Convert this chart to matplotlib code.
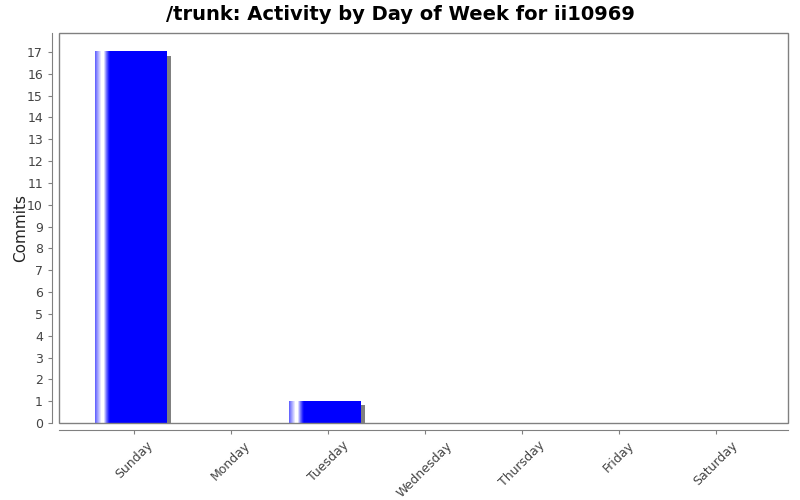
import matplotlib.pyplot as plt
import numpy as np
from matplotlib.patches import Rectangle

days = ['Sunday', 'Monday', 'Tuesday', 'Wednesday', 'Thursday', 'Friday', 'Saturday']
commits = [17, 0, 1, 0, 0, 0, 0]

fig = plt.figure(figsize=(8, 5), dpi=100)
ax = fig.add_axes([59 / 800, 77 / 500, 729 / 800, 390 / 500])

x = np.arange(len(days))
width = 0.74
ppx = 97.0           # pixels per category
ppy = 390 / 17.87    # pixels per commit

# horizontal gradient across the bar: blue -> white highlight -> blue
grad = np.zeros(72)
grad[:15] = [0.4, 0.5, 0.6, 0.7, 0.8, 0.9, 1.0, 1.0, 1.0, 0.85, 0.65, 0.45, 0.3, 0.15, 0.05]
cmap_rgb = np.zeros((1, len(grad), 3))
cmap_rgb[0, :, 0] = grad
cmap_rgb[0, :, 1] = grad
cmap_rgb[0, :, 2] = 1.0

for xi, v in zip(x, commits):
    if v <= 0:
        continue
    left = xi - width / 2 - 0.03
    # shadow
    ax.add_patch(Rectangle((left + 4 / ppx, 0), width, v - 4 / ppy,
                           facecolor='#808080', edgecolor='none', zorder=1))
    ax.imshow(cmap_rgb, extent=(left, left + width, 0, v), aspect='auto',
              interpolation='nearest', zorder=2)

ax.set_xlim(-75 / ppx, 6 + 72 / ppx)
ax.set_ylim(0, 17.87)

ax.set_xticks(x)
ax.set_xticklabels(days)
ax.set_yticks(range(0, 18))
ax.tick_params(colors='#808080', labelcolor='#444444', labelsize=9, length=3)
ax.tick_params(axis='x', labelrotation=45)
plt.setp(ax.get_xticklabels(), ha='right', rotation_mode='anchor')

for s in ['left', 'bottom']:
    ax.spines[s].set_position(('outward', 5))
    ax.spines[s].set_color('#808080')
for s in ['top', 'right']:
    ax.spines[s].set_visible(False)
ax.add_patch(Rectangle((0, 0), 1, 1, transform=ax.transAxes, fill=False,
                       edgecolor='#808080', linewidth=1, zorder=5, clip_on=False))

ax.set_ylabel('Commits', fontsize=11, color='#222222')
ax.yaxis.set_label_coords(-0.043, 0.5)
fig.suptitle('/trunk: Activity by Day of Week for ii10969', fontsize=14,
             fontweight='bold', y=0.99)

fig.savefig('out.png', dpi=100)
